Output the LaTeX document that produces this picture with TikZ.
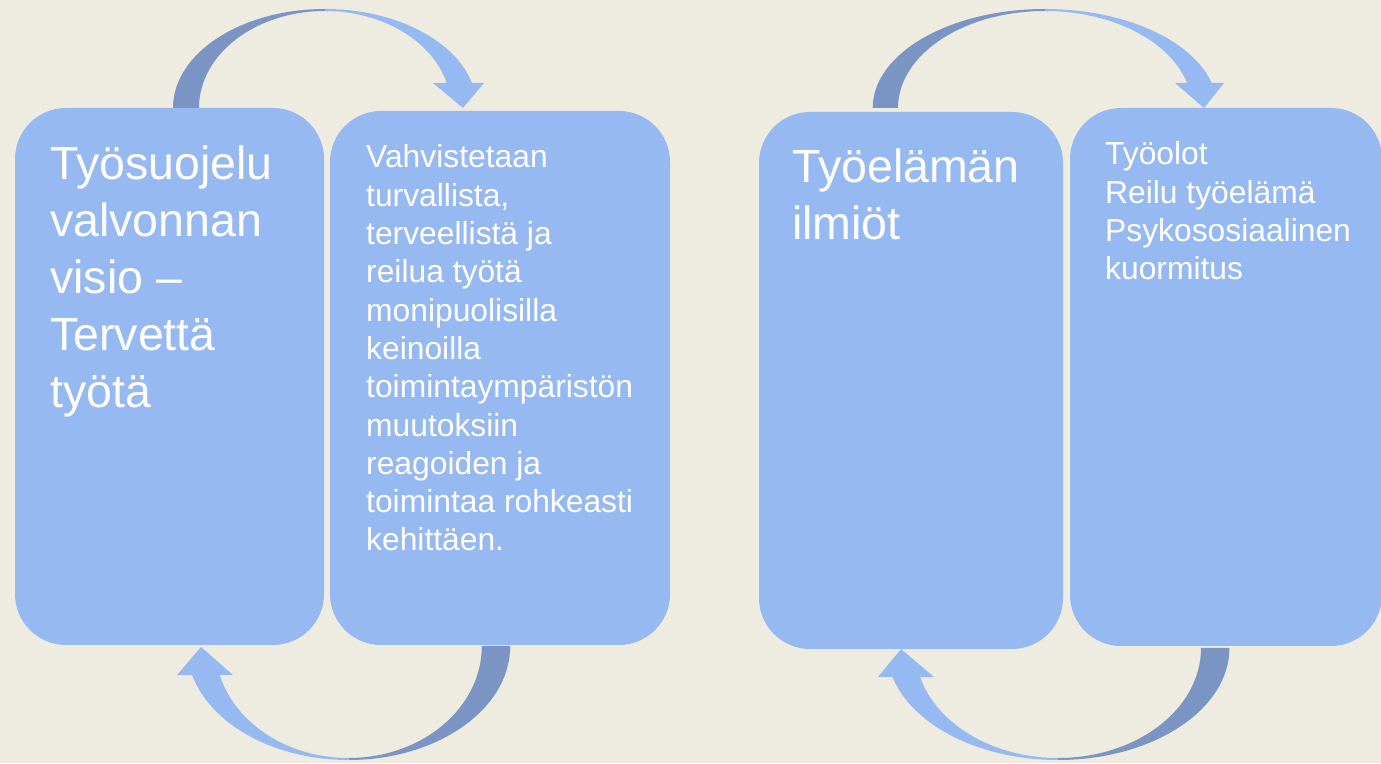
\documentclass[tikz,border=0pt]{standalone}
\usepackage{fontspec}
\setmainfont{Liberation Sans}
\definecolor{bgc}{RGB}{238,235,225}
\definecolor{boxc}{RGB}{151,185,242}
\definecolor{darkc}{RGB}{122,149,196}
\tikzset{
  box/.style={fill=boxc, draw=none, rounded corners=51pt, inner sep=0pt},
  bigtxt/.style={text=white, inner sep=0pt, anchor=base west, font=\fontsize{46.5}{57}\selectfont},
  smalltxt/.style={text=white, inner sep=0pt, anchor=base west, font=\fontsize{31.8}{38.3}\selectfont},
  backpart/.style={fill=darkc, draw=none},
  frontpart/.style={fill=boxc, draw=none}
}
\begin{document}
\begin{tikzpicture}[x=1pt,y=1pt]
\useasboundingbox (0,0) rectangle (1381,763);
\fill[bgc] (0,0) rectangle (1381,763);

% boxes
\node[box, minimum width=309pt, minimum height=537pt] (b1) at (169.5,386.5) {};
\node[box, minimum width=340pt, minimum height=534pt] (b2) at (500,385) {};
\node[box, minimum width=304pt, minimum height=537pt] (b3) at (911,382.5) {};
\node[box, minimum width=312pt, minimum height=538pt] (b4) at (1226,386) {};

% texts
\node[bigtxt] (t1) at (50,583) {\vtop{\hbox{Työsuojelu}\hbox{valvonnan}\hbox{visio –}\hbox{Tervettä}\hbox{työtä}}};
\node[smalltxt] (t2) at (366,595) {\vtop{\hbox{Vahvistetaan}\hbox{turvallista,}\hbox{terveellistä ja}\hbox{reilua työtä}\hbox{monipuolisilla}\hbox{keinoilla}\hbox{toimintaympäristön}\hbox{muutoksiin}\hbox{reagoiden ja}\hbox{toimintaa rohkeasti}\hbox{kehittäen.}}};
\node[bigtxt] (t3) at (792,580) {\vtop{\hbox{Työelämän}\hbox{ilmiöt}}};
\node[smalltxt] (t4) at (1105,598) {\vtop{\hbox{Työolot}\hbox{Reilu työelämä}\hbox{Psykososiaalinen}\hbox{kuormitus}}};

% ---- top arrow, left pair (b1 -> b2)
\fill[backpart] (173,655) arc[start angle=180, end angle=90, x radius=152pt, y radius=99pt]
  -- (325,752) arc[start angle=90, end angle=180, x radius=126pt, y radius=97pt] -- cycle;
\fill[frontpart] (325,754) arc[start angle=90, end angle=14.63, x radius=152pt, y radius=99pt]
  -- (484,680) -- (463,655) -- (433,680)
  -- ([shift={(325,655)}]14.94:126pt and 97pt)
  arc[start angle=14.94, end angle=90, x radius=126pt, y radius=97pt] -- cycle;

% ---- bottom arrow, left pair (b2 -> b1)
\fill[backpart] (510.2,117) arc[start angle=0, end angle=-90, x radius=161.7pt, y radius=114pt]
  -- (348.5,5) arc[start angle=-90, end angle=0, x radius=133.3pt, y radius=112pt] -- cycle;
\fill[frontpart] (348.5,3) arc[start angle=-90, end angle=-165.26, x radius=161.7pt, y radius=114pt]
  -- (177,88) -- (201,116) -- (233,88)
  -- ([shift={(348.5,117)}]-165:133.3pt and 112pt)
  arc[start angle=-165, end angle=-90, x radius=133.3pt, y radius=112pt] -- cycle;

% ---- top arrow, right pair (b3 -> b4)
\fill[backpart] (872.7,655) arc[start angle=180, end angle=90, x radius=172.3pt, y radius=99pt]
  -- (1045,752) arc[start angle=90, end angle=180, x radius=147pt, y radius=97pt] -- cycle;
\fill[frontpart] (1045,754) arc[start angle=90, end angle=14.63, x radius=172.3pt, y radius=99pt]
  -- (1224,680) -- (1204,655) -- (1175,680)
  -- ([shift={(1045,655)}]14.94:147pt and 97pt)
  arc[start angle=14.94, end angle=90, x radius=147pt, y radius=97pt] -- cycle;

% ---- bottom arrow, right pair (b4 -> b3)
\fill[backpart] (1229.4,115) arc[start angle=0, end angle=-90, x radius=171.4pt, y radius=112pt]
  -- (1058,5) arc[start angle=-90, end angle=0, x radius=143pt, y radius=110pt] -- cycle;
\fill[frontpart] (1058,3) arc[start angle=-90, end angle=-165, x radius=171.4pt, y radius=112pt]
  -- (878,86) -- (901,114) -- (934,86)
  -- ([shift={(1058,115)}]-164.71:143pt and 110pt)
  arc[start angle=-164.71, end angle=-90, x radius=143pt, y radius=110pt] -- cycle;
\end{tikzpicture}
\end{document}
